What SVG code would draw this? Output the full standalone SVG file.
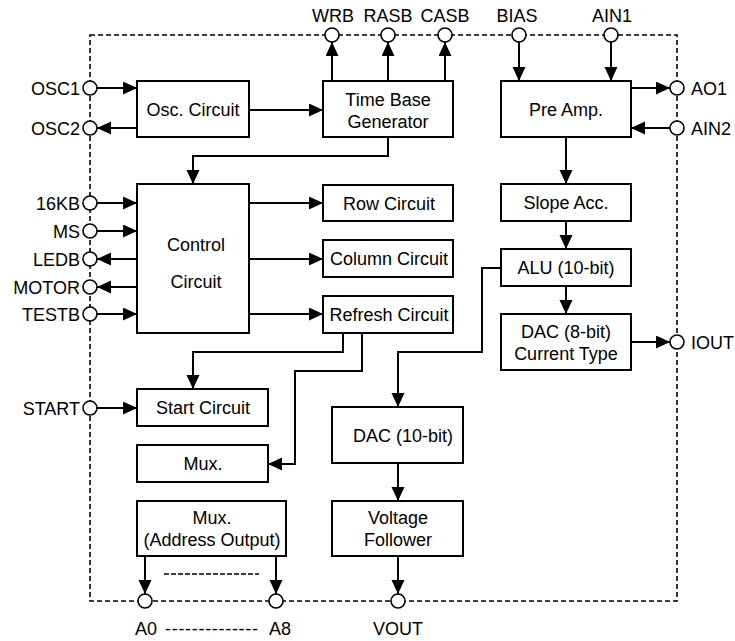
<svg xmlns="http://www.w3.org/2000/svg" width="735" height="641" viewBox="0 0 735 641">
<style>
text{font-family:"Liberation Sans",Arial,sans-serif;font-size:18px;fill:#000}
.box{fill:#fff;stroke:#000;stroke-width:2}
.pin{fill:#fff;stroke:#000;stroke-width:1.6}
.c{fill:none;stroke:#000;stroke-width:2}
.a{marker-end:url(#ah)}
.m{text-anchor:middle}
.e{text-anchor:end}
.border{fill:none;stroke:#000;stroke-width:1.6;stroke-dasharray:5,3}
</style>
<defs>
<marker id="ah" markerUnits="userSpaceOnUse" markerWidth="14" markerHeight="14" refX="14" refY="6.5" orient="auto">
<path d="M0,0 L14,6.5 L0,13 z" fill="#000"/>
</marker>
</defs>
<rect class="border" x="90" y="35" width="587" height="566"/>
<g id="connectors">
<path class="c a" d="M97,88 H137"/>
<path class="c a" d="M137,128 H97"/>
<path class="c a" d="M249,110 H323"/>
<path class="c a" d="M332,81 V42"/>
<path class="c a" d="M388,81 V42"/>
<path class="c a" d="M445,81 V42"/>
<path class="c a" d="M519,42 V81"/>
<path class="c a" d="M611,42 V81"/>
<path class="c a" d="M631,88 H670"/>
<path class="c a" d="M670,128 H631"/>
<path class="c a" d="M566,137 V184"/>
<path class="c a" d="M566,221 V249"/>
<path class="c a" d="M566,286 V314"/>
<path class="c a" d="M631,342 H670"/>
<path class="c a" d="M388,137 V156 H193 V184"/>
<path class="c a" d="M97,203 H137"/>
<path class="c a" d="M97,231 H137"/>
<path class="c a" d="M137,259 H97"/>
<path class="c a" d="M137,287 H97"/>
<path class="c a" d="M97,314 H137"/>
<path class="c a" d="M249,203 H323"/>
<path class="c a" d="M249,259 H323"/>
<path class="c a" d="M249,314 H323"/>
<path class="c a" d="M343,333 V352 H193 V389"/>
<path class="c a" d="M362,333 V371 H295 V464 H268"/>
<path class="c a" d="M97,408 H137"/>
<path class="c a" d="M501,268 H482 V352 H398 V407"/>
<path class="c a" d="M398,463 V501"/>
<path class="c a" d="M398,556 V594"/>
<path class="c a" d="M145,556 V594"/>
<path class="c a" d="M276,556 V594"/>
<path d="M164,574 H259" fill="none" stroke="#000" stroke-width="1.5" stroke-dasharray="5,2"/>
</g>
<g id="pins">
<circle class="pin" cx="332" cy="35" r="7"/>
<circle class="pin" cx="388" cy="35" r="7"/>
<circle class="pin" cx="445" cy="35" r="7"/>
<circle class="pin" cx="519" cy="35" r="7"/>
<circle class="pin" cx="611" cy="35" r="7"/>
<circle class="pin" cx="90" cy="88" r="7"/>
<circle class="pin" cx="90" cy="128" r="7"/>
<circle class="pin" cx="90" cy="203" r="7"/>
<circle class="pin" cx="90" cy="231" r="7"/>
<circle class="pin" cx="90" cy="259" r="7"/>
<circle class="pin" cx="90" cy="287" r="7"/>
<circle class="pin" cx="90" cy="314" r="7"/>
<circle class="pin" cx="90" cy="408" r="7"/>
<circle class="pin" cx="677" cy="88" r="7"/>
<circle class="pin" cx="677" cy="128" r="7"/>
<circle class="pin" cx="677" cy="342" r="7"/>
<circle class="pin" cx="145" cy="601" r="7"/>
<circle class="pin" cx="276" cy="601" r="7"/>
<circle class="pin" cx="398" cy="601" r="7"/>
</g>
<g id="pin-labels">
<text class="m" x="333" y="22">WRB</text>
<text class="m" x="388" y="22">RASB</text>
<text class="m" x="445" y="22">CASB</text>
<text class="m" x="517" y="22">BIAS</text>
<text class="m" x="612" y="22">AIN1</text>
<text class="e" x="80" y="95">OSC1</text>
<text class="e" x="80" y="135">OSC2</text>
<text class="e" x="80" y="210">16KB</text>
<text class="e" x="80" y="238">MS</text>
<text class="e" x="80" y="266">LEDB</text>
<text class="e" x="80" y="294">MOTOR</text>
<text class="e" x="80" y="321">TESTB</text>
<text class="e" x="80" y="415">START</text>
<text x="691" y="95">AO1</text>
<text x="691" y="135">AIN2</text>
<text x="691" y="349">IOUT</text>
<text class="m" x="398" y="635">VOUT</text>
<text class="m" x="146" y="635">A0</text>
<text x="165" y="635" textLength="93" lengthAdjust="spacing">--------------</text>
<text class="m" x="280" y="635">A8</text>
</g>
<g id="osc"><rect class="box" x="137" y="81" width="112" height="56"/><text class="m" x="193" y="116">Osc. Circuit</text></g>
<g id="tbg"><rect class="box" x="323" y="81" width="130" height="56"/><text class="m" x="388" y="106">Time Base</text><text class="m" x="388" y="128">Generator</text></g>
<g id="preamp"><rect class="box" x="501" y="81" width="130" height="56"/><text class="m" x="566" y="116">Pre Amp.</text></g>
<g id="control"><rect class="box" x="137" y="184" width="112" height="149"/><text class="m" x="196" y="251">Control</text><text class="m" x="196" y="288">Circuit</text></g>
<g id="row"><rect class="box" x="323" y="185" width="130" height="36"/><text class="m" x="389" y="210">Row Circuit</text></g>
<g id="column"><rect class="box" x="323" y="240" width="130" height="37"/><text class="m" x="389" y="265">Column Circuit</text></g>
<g id="refresh"><rect class="box" x="323" y="296" width="130" height="37"/><text class="m" x="389" y="321">Refresh Circuit</text></g>
<g id="slope"><rect class="box" x="501" y="184" width="130" height="37"/><text class="m" x="566" y="209">Slope Acc.</text></g>
<g id="alu"><rect class="box" x="501" y="249" width="130" height="37"/><text class="m" x="566" y="274">ALU (10-bit)</text></g>
<g id="dac8"><rect class="box" x="501" y="314" width="130" height="56"/><text class="m" x="566" y="338">DAC (8-bit)</text><text class="m" x="566" y="360">Current Type</text></g>
<g id="start"><rect class="box" x="137" y="389" width="131" height="37"/><text class="m" x="203" y="414">Start Circuit</text></g>
<g id="mux"><rect class="box" x="137" y="445" width="131" height="37"/><text class="m" x="203" y="470">Mux.</text></g>
<g id="muxaddr"><rect class="box" x="137" y="501" width="149" height="55"/><text class="m" x="212" y="524">Mux.</text><text class="m" x="212" y="546">(Address Output)</text></g>
<g id="dac10"><rect class="box" x="332" y="407" width="131" height="56"/><text class="m" x="403" y="442">DAC (10-bit)</text></g>
<g id="vf"><rect class="box" x="332" y="501" width="131" height="55"/><text class="m" x="398" y="524">Voltage</text><text class="m" x="398" y="546">Follower</text></g>
</svg>
